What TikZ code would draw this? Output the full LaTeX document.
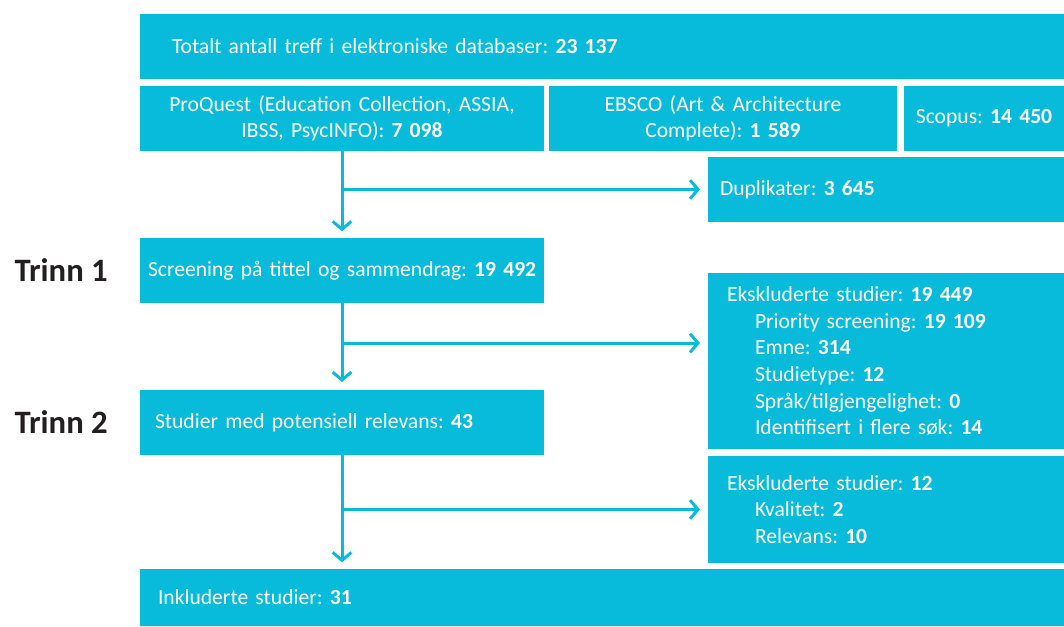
\documentclass[tikz,border=0pt]{standalone}
\usepackage{fontspec}
\setmainfont{Carlito}
\usetikzlibrary{arrows.meta,positioning,calc}
\definecolor{sky}{HTML}{09BBDA}
\definecolor{ink}{HTML}{231F20}

\begin{document}
\frenchspacing
\begin{tikzpicture}[x=0.75pt,y=-0.75pt,
    font=\fontsize{16.2}{20}\selectfont,
    box/.style={fill=sky, text=white, anchor=north west, inner ysep=0pt, outer sep=0pt, align=left},
    flow/.style={draw=sky, line width=2.25pt, -{Straight Barb[length=6pt,width=14pt]}},
    phase/.style={font=\fontsize{24.5}{30}\selectfont\bfseries, text=ink, inner sep=0pt}]
    \useasboundingbox (0,0) rectangle (1064,626);

    % databases
    \node[box, text width=645pt, inner xsep=24pt, minimum height=48.75pt] (total) at (140,14)
        {Totalt antall treff i elektroniske databaser: \textbf{23~137}};
    \node[box, align=center, text width=291pt, inner xsep=6pt, minimum height=48.75pt] (proquest) at (140,86)
        {ProQuest (Education Collection, ASSIA,\\ IBSS, PsycINFO): \textbf{7~098}};
    \node[box, align=center, text width=249pt, inner xsep=6pt, minimum height=48.75pt] (ebsco) at (549,86)
        {EBSCO (Art \& Architecture\\ Complete): \textbf{1~589}};
    \node[box, align=center, text width=108pt, inner xsep=6pt, minimum height=48.75pt] (scopus) at (904,86)
        {Scopus: \textbf{14~450}};
    \node[box, text width=249pt, inner xsep=9pt, minimum height=48.75pt] (dup) at (708,157)
        {Duplikater: \textbf{3~645}};

    % screening
    \node[box, text width=291pt, inner xsep=6pt, minimum height=48.75pt] (screen) at (140,238)
        {\mbox{Screening på tittel og sammendrag: \textbf{19~492}}};
    \node[box, text width=238.5pt, inner xsep=14.25pt, minimum height=132pt] (excl1) at (708,273)
        {Ekskluderte studier: \textbf{19~449}\\
         \hspace*{21pt}Priority screening: \textbf{19~109}\\
         \hspace*{21pt}Emne: \textbf{314}\\
         \hspace*{21pt}Studietype: \textbf{12}\\
         \hspace*{21pt}Språk/tilgjengelighet: \textbf{0}\\
         \hspace*{21pt}Identifisert i flere søk: \textbf{14}};
    \node[box, text width=280.5pt, inner xsep=11.25pt, minimum height=48.75pt] (relevant) at (140,390)
        {Studier med potensiell relevans: \textbf{43}};
    \node[box, text width=238.5pt, inner xsep=14.25pt, minimum height=80.25pt] (excl2) at (708,456)
        {Ekskluderte studier: \textbf{12}\\
         \hspace*{21pt}Kvalitet: \textbf{2}\\
         \hspace*{21pt}Relevans: \textbf{10}};
    \node[box, text width=666pt, inner xsep=13.5pt, minimum height=42.75pt] (incl) at (140,569)
        {Inkluderte studier: \textbf{31}};

    \node[phase, left=24pt of screen] (t1) {Trinn 1};
    \node[phase, left=24pt of relevant] (t2) {Trinn 2};

    % arrows
    \coordinate (b1) at (proquest.south |- dup.west);
    \coordinate (b2) at ($(screen.south)!0.46!(relevant.north)$);
    \coordinate (e2) at (b2 -| excl1.west);
    \coordinate (b3) at (relevant.south |- excl2.west);
    \draw[flow, shorten >=5pt] (proquest) -- (screen);
    \draw[flow, shorten >=6pt] (b1) -- (dup);
    \draw[flow, shorten >=6pt] (screen) -- (relevant);
    \draw[flow, shorten >=6pt] (b2) -- (e2);
    \draw[flow, shorten >=5pt] (relevant) -- (incl.north -| relevant.south);
    \draw[flow, shorten >=6pt] (b3) -- (excl2);
\end{tikzpicture}
\end{document}
